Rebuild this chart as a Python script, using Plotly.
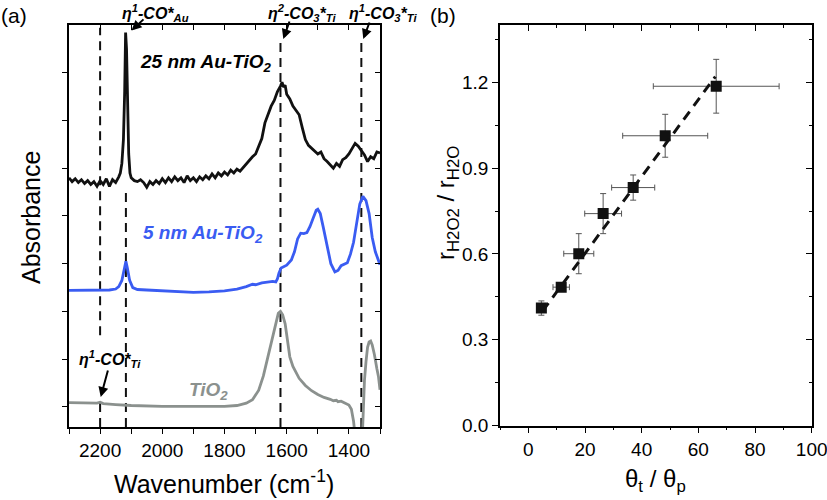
import plotly.graph_objects as go

W, H = 827, 500
FONT = "Liberation Sans, Arial, sans-serif"

# ---------------- Panel (a): DRIFTS spectra ----------------
wn_25nm = [2300, 2290, 2280, 2270, 2260, 2250, 2240, 2230, 2220, 2210, 2200, 2190, 2180, 2170,
           2160, 2150, 2140, 2135, 2130, 2125, 2121, 2118, 2115, 2112, 2108, 2104, 2100, 2090,
           2080, 2070, 2060, 2050, 2040, 2030, 2020, 2010, 2000, 1990, 1980, 1970, 1960, 1950,
           1940, 1930, 1920, 1910, 1900, 1890, 1880, 1870, 1860, 1850, 1840, 1830, 1820, 1810,
           1800, 1790, 1780, 1770, 1760, 1750, 1740, 1730, 1720, 1710, 1700, 1690, 1680, 1670,
           1660, 1650, 1640, 1630, 1620, 1615, 1610, 1605, 1600, 1590, 1580, 1570, 1560, 1550,
           1540, 1530, 1520, 1510, 1500, 1490, 1480, 1470, 1460, 1450, 1440, 1430, 1420, 1410,
           1400, 1390, 1380, 1370, 1360, 1350, 1340, 1330, 1320, 1310, 1300]
abs_25nm = [4.80, 4.72, 4.78, 4.70, 4.76, 4.68, 4.74, 4.66, 4.72, 4.62, 4.74, 4.66, 4.78, 4.62,
            4.76, 4.70, 4.82, 4.90, 5.10, 5.60, 6.60, 7.84, 7.50, 6.30, 5.30, 4.90, 4.80, 4.74,
            4.72, 4.76, 4.70, 4.60, 4.72, 4.66, 4.74, 4.68, 4.78, 4.70, 4.80, 4.72, 4.82, 4.74,
            4.80, 4.70, 4.84, 4.74, 4.80, 4.72, 4.82, 4.76, 4.84, 4.78, 4.88, 4.80, 4.90, 4.84,
            4.92, 4.86, 4.96, 4.90, 4.98, 4.94, 5.02, 5.10, 5.16, 5.24, 5.30, 5.48, 5.62, 5.95,
            6.15, 6.30, 6.42, 6.60, 6.72, 6.80, 6.70, 6.74, 6.55, 6.45, 6.30, 6.20, 6.12, 5.85,
            5.60, 5.48, 5.42, 5.38, 5.30, 5.34, 5.20, 5.14, 5.08, 5.00, 5.10, 5.04, 5.18, 5.22,
            5.30, 5.40, 5.52, 5.46, 5.36, 5.28, 5.14, 5.24, 5.20, 5.34, 5.32]

wn_5nm = [2300, 2250, 2200, 2170, 2150, 2140, 2130, 2122, 2117, 2112, 2105, 2095, 2080, 2050,
          2000, 1950, 1900, 1850, 1800, 1760, 1730, 1710, 1700, 1680, 1660, 1645, 1635, 1630,
          1625, 1618, 1600, 1585, 1575, 1565, 1555, 1545, 1535, 1525, 1515, 1505, 1500, 1492,
          1482, 1470, 1458, 1445, 1435, 1425, 1415, 1405, 1395, 1385, 1375, 1365, 1355, 1345,
          1335, 1325, 1315, 1305, 1300]
abs_5nm = [2.44, 2.44, 2.44, 2.45, 2.47, 2.52, 2.65, 2.90, 3.05, 2.90, 2.65, 2.50, 2.46, 2.45,
           2.43, 2.41, 2.40, 2.41, 2.43, 2.47, 2.52, 2.57, 2.56, 2.60, 2.62, 2.63, 2.62, 2.68,
           2.80, 2.91, 2.97, 3.08, 3.25, 3.52, 3.64, 3.63, 3.65, 3.78, 3.95, 4.12, 4.14, 4.05,
           3.75, 3.35, 3.00, 2.83, 2.86, 2.96, 2.99, 3.02, 3.20, 3.45, 3.85, 4.25, 4.41, 4.32,
           4.05, 3.55, 3.25, 3.05, 2.98]

wn_tio2 = [2300, 2250, 2210, 2200, 2190, 2150, 2100, 2000, 1900, 1800, 1760, 1730, 1710, 1690,
           1675, 1660, 1645, 1635, 1627, 1620, 1613, 1605, 1598, 1590, 1580, 1570, 1560, 1540,
           1520, 1500, 1480, 1460, 1450, 1440, 1435, 1425, 1418, 1410, 1400, 1392, 1385, 1380,
           1375, 1362, 1356, 1350, 1345, 1340, 1335, 1330, 1325, 1318, 1310, 1305, 1300]
abs_tio2 = [0.09, 0.08, 0.08, 0.10, 0.07, 0.05, 0.03, 0.01, 0.01, 0.01, 0.03, 0.08, 0.15, 0.35,
            0.65, 1.05, 1.50, 1.78, 1.96, 2.00, 1.93, 1.74, 1.40, 1.05, 0.85, 0.74, 0.60, 0.45,
            0.34, 0.26, 0.20, 0.16, 0.13, 0.14, 0.11, 0.12, 0.10, 0.08, 0.04, -0.05, -0.30, -0.60,
            -1.50, -1.50, -0.40, 0.55, 0.95, 1.25, 1.36, 1.38, 1.30, 1.10, 0.80, 0.64, 0.36]

# band reference lines: (wavenumber, lower, upper) in absorbance units
band_lines = [(2200, 1.50, 7.94), (2200, -0.42, 0.12), (2117, -0.42, 4.60),
              (1620, -0.42, 7.70), (1360, -0.42, 7.70)]

wn_ticks = [2200, 2000, 1800, 1600, 1400]
abs_ticks = [0, 1, 2, 3, 4, 5, 6, 7]

# ---------------- Panel (b): rate ratio vs coverage ratio ----------------
theta_ratio = [4.6, 11.6, 17.8, 26.4, 37.0, 48.3, 66.3]
theta_err = [1.5, 2.9, 5.3, 6.5, 7.6, 15.0, 22.2]
rate_ratio = [0.411, 0.484, 0.601, 0.741, 0.832, 1.013, 1.186]
rate_err = [0.025, 0.010, 0.070, 0.070, 0.044, 0.075, 0.094]
fit_x = [5.0, 66.0]
fit_y = [0.40, 1.22]

BLACK = "#111111"
BLUE = "#3a5cf2"
GRAY = "#8b918e"


def pxx(px):
    return px / W


def pxy(py):
    return 1 - py / H


fig = go.Figure()

fig.add_trace(go.Scatter(x=wn_25nm, y=abs_25nm, mode="lines",
                         line=dict(color=BLACK, width=2.8), xaxis="x", yaxis="y"))
fig.add_trace(go.Scatter(x=wn_5nm, y=abs_5nm, mode="lines",
                         line=dict(color=BLUE, width=2.8), xaxis="x", yaxis="y"))
fig.add_trace(go.Scatter(x=wn_tio2, y=abs_tio2, mode="lines",
                         line=dict(color=GRAY, width=2.8), xaxis="x", yaxis="y"))
# empty traces to activate mirror axes
fig.add_trace(go.Scatter(x=[], y=[], xaxis="x3", yaxis="y", hoverinfo="skip"))
fig.add_trace(go.Scatter(x=[], y=[], xaxis="x", yaxis="y3", hoverinfo="skip"))

fig.add_trace(go.Scatter(x=theta_ratio, y=rate_ratio, mode="markers",
                         marker=dict(symbol="square", size=11, color=BLACK),
                         error_x=dict(type="data", array=theta_err, color="#555555",
                                      thickness=1, width=3),
                         error_y=dict(type="data", array=rate_err, color="#555555",
                                      thickness=1, width=3),
                         xaxis="x2", yaxis="y2"))
fig.add_trace(go.Scatter(x=fit_x, y=fit_y, mode="lines",
                         line=dict(color=BLACK, width=3, dash="10px,7px"),
                         xaxis="x2", yaxis="y2"))
fig.add_trace(go.Scatter(x=[], y=[], xaxis="x4", yaxis="y2", hoverinfo="skip"))
fig.add_trace(go.Scatter(x=[], y=[], xaxis="x2", yaxis="y4", hoverinfo="skip"))

shapes = []
for wn, lo, hi in band_lines:
    shapes.append(dict(type="line", xref="x", yref="y", x0=wn, x1=wn, y0=lo, y1=hi,
                       line=dict(color=BLACK, width=2, dash="9px,6px"), layer="below"))

tickfont = dict(family=FONT, size=19, color="black")
common = dict(showgrid=False, zeroline=False, showline=True, linecolor="black",
              linewidth=1.5, tickcolor="black", tickwidth=1.3, automargin=False)

A_DOM_X = [pxx(69), pxx(380)]
A_DOM_Y = [pxy(427), pxy(25)]
B_DOM_X = [pxx(500), pxx(811.7)]
B_DOM_Y = [pxy(425.7), pxy(25)]

fig.update_layout(
    width=W, height=H, margin=dict(l=0, r=0, t=0, b=0, pad=0),
    paper_bgcolor="white", plot_bgcolor="white", showlegend=False,
    font=dict(family=FONT, color="black"),
    shapes=shapes,
    xaxis=dict(domain=A_DOM_X, range=[2300, 1300], anchor="y", tickmode="array",
               tickvals=wn_ticks, ticktext=[str(t) for t in wn_ticks],
               ticks="outside", ticklen=5, tickfont=tickfont,
               minor=dict(tickmode="linear", tick0=0, dtick=100, ticks="outside", ticklen=5,
                          tickwidth=1.3, tickcolor="black"), **common),
    xaxis3=dict(overlaying="x", side="top", anchor="y", range=[2300, 1300],
                tickmode="linear", tick0=0, dtick=100, ticks="inside", ticklen=5,
                showticklabels=False, **common),
    yaxis=dict(domain=A_DOM_Y, range=[-0.42, 8.0], anchor="x", tickmode="array",
               tickvals=abs_ticks, ticks="outside", ticklen=5, showticklabels=False, **common),
    yaxis3=dict(overlaying="y", side="right", anchor="x", range=[-0.42, 8.0],
                tickmode="array", tickvals=abs_ticks, ticks="inside", ticklen=5,
                showticklabels=False, **common),
    xaxis2=dict(domain=B_DOM_X, range=[-10, 100], anchor="y2", tickmode="linear",
                tick0=0, dtick=20, ticks="outside", ticklen=6, tickfont=tickfont,
                ticklabeloverflow="allow",
                minor=dict(tickmode="linear", tick0=0, dtick=10, ticks="outside", ticklen=3,
                           tickwidth=1.3, tickcolor="black"), **common),
    xaxis4=dict(overlaying="x2", side="top", anchor="y2", range=[-10, 100],
                tickmode="linear", tick0=0, dtick=20, ticks="inside", ticklen=6,
                showticklabels=False,
                minor=dict(tickmode="linear", tick0=0, dtick=10, ticks="inside", ticklen=3,
                           tickwidth=1.3, tickcolor="black"), **common),
    yaxis2=dict(domain=B_DOM_Y, range=[0, 1.4], anchor="x2", tickmode="linear",
                tick0=0, dtick=0.3, tickformat=".1f", ticks="outside", ticklen=6,
                tickfont=tickfont,
                minor=dict(tickmode="linear", tick0=0, dtick=0.15, ticks="outside", ticklen=3,
                           tickwidth=1.3, tickcolor="black"), **common),
    yaxis4=dict(overlaying="y2", side="right", anchor="x2", range=[0, 1.4],
                tickmode="linear", tick0=0, dtick=0.3, ticks="inside", ticklen=6,
                showticklabels=False,
                minor=dict(tickmode="linear", tick0=0, dtick=0.15, ticks="inside", ticklen=3,
                           tickwidth=1.3, tickcolor="black"), **common),
)


def label(text, px, py, size, color="black", angle=0):
    return dict(text=text, x=pxx(px), y=pxy(py), xref="paper", yref="paper",
                showarrow=False, font=dict(family=FONT, size=size, color=color),
                textangle=angle, xanchor="center", yanchor="middle")


def arrow(hx, hy, tx, ty):
    return dict(text="", x=pxx(hx), y=pxy(hy), xref="paper", yref="paper",
                ax=tx - hx, ay=ty - hy, showarrow=True, arrowhead=2, arrowsize=1,
                arrowwidth=2, arrowcolor="black")


annotations = [
    label("(a)", 14, 15, 21),
    label("(b)", 443, 15, 21),
    label("<b><i>η<sup>1</sup>-CO*<sub>Au</sub></i></b>", 155, 13, 16),
    label("<b><i>η<sup>2</sup>-CO<sub>3</sub>*<sub>Ti</sub></i></b>", 302, 13, 16),
    label("<b><i>η<sup>1</sup>-CO<sub>3</sub>*<sub>Ti</sub></i></b>", 383, 13, 16),
    label("<b><i>η<sup>1</sup>-CO*<sub>Ti</sub></i></b>", 110, 359, 16),
    label("<b><i>25 nm Au-TiO<sub>2</sub></i></b>", 205, 63, 19),
    label("<b><i>5 nm Au-TiO<sub>2</sub></i></b>", 203, 234, 19, BLUE),
    label("<b><i>TiO<sub>2</sub></i></b>", 208, 391, 19, GRAY),
    arrow(131.5, 30.5, 145, 18),
    arrow(283.3, 39, 290, 20),
    arrow(363.3, 39, 370, 21),
    arrow(100.7, 397, 108.3, 369),
    label("Absorbance", 31, 218, 25, angle=-90),
    label("Wavenumber (cm<sup>-1</sup>)", 224, 482, 25),
    label("r<sub>H2O2</sub> / r<sub>H2O</sub>", 447, 203, 24, angle=-90),
    label("θ<sub>t</sub> / θ<sub>p</sub>", 655, 480, 24),
]
fig.update_layout(annotations=annotations)

# remove the default 8px page margin so the figure fills the 827x500 window
fig.write_html("out.html", config={"displayModeBar": False},
               post_script="document.body.style.margin='0';document.body.style.padding='0';")
